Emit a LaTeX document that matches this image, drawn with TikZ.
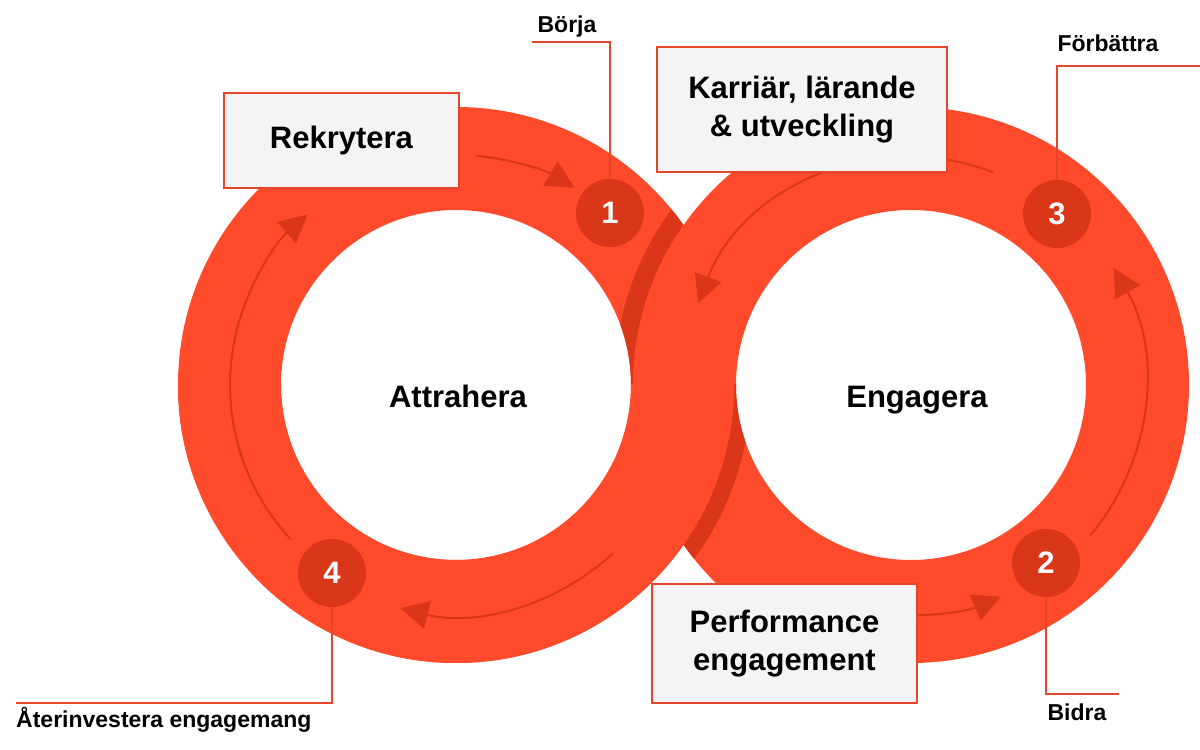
\documentclass[tikz,border=0pt]{standalone}
\usepackage{fontspec}
\setmainfont{Liberation Sans}
\usetikzlibrary{arrows.meta}
\definecolor{ringred}{HTML}{FF4A2B}
\definecolor{darkred}{HTML}{D9361A}
\definecolor{linered}{HTML}{E5462B}
\definecolor{boxgrey}{HTML}{F4F4F4}
\tikzset{
	ring/.style={fill=ringred, even odd rule},
	shadow/.style={fill=darkred, even odd rule},
	flow/.style={draw=darkred, line width=2pt, -{Triangle[length=28pt,width=28pt]}},
	stepnum/.style={circle, fill=darkred, minimum size=68pt, inner sep=0pt, text=white, font=\bfseries\fontsize{31}{31}\selectfont},
	phase/.style={draw=linered, line width=1.5pt, fill=boxgrey, inner sep=0pt, align=center, font=\bfseries\fontsize{31}{38}\selectfont},
	leader/.style={draw=linered, line width=1.5pt},
	tag/.style={inner sep=0pt, font=\bfseries\fontsize{23}{23}\selectfont},
	hub/.style={inner sep=0pt, anchor=base, font=\bfseries\fontsize{31}{31}\selectfont},
}

\begin{document}
\begin{tikzpicture}[x=1pt, y=1pt]
			%%%%% START %%%%%
			\fill[white] (0, 0) rectangle (1200, 750);
			\useasboundingbox (0, 0) rectangle (1200, 750);
			\coordinate (lc) at (456, 365);
			\coordinate (rc) at (911, 365);
			
			\fill[ring] (lc) circle[radius=278] (lc) circle[radius=175];
			\begin{scope}[even odd rule]
				\clip (0, 365) rectangle (1200, 750);
				\clip (lc) circle[radius=278] (lc) circle[radius=175];
				\fill[shadow] (rc) circle[radius=297] (rc) circle[radius=278];
			\end{scope}
			\fill[ring] (rc) circle[radius=278] (rc) circle[radius=175];
			\begin{scope}[even odd rule]
				\clip (0, 0) rectangle (1200, 365);
				\clip (rc) circle[radius=278] (rc) circle[radius=175];
				\fill[shadow] (lc) circle[radius=295] (lc) circle[radius=278];
			\end{scope}
			\begin{scope}
				\clip (0, 0) rectangle (1200, 365);
				\fill[ring] (lc) circle[radius=278] (lc) circle[radius=175];
			\end{scope}
			
			\draw[flow] ([shift={(85:230)}]lc) arc[start angle=85, end angle=59, radius=230];
			\draw[flow] ([shift={(223:226)}]lc) arc[start angle=223, end angle=131, radius=226];
			\draw[flow] ([shift={(313:230)}]lc) arc[start angle=313, end angle=256, radius=230];
			\draw[flow] ([shift={(69:228)}]rc) arc[start angle=69, end angle=159, radius=228];
			\draw[flow] ([shift={(265:230)}]rc) arc[start angle=265, end angle=293, radius=230];
			\draw[flow] ([shift={(320:234)}]rc) arc[start angle=320, end angle=390, radius=234];
			
			\node[hub] (attr) at (458, 342) {Attrahera};
			\node[hub] (enga) at (917, 342) {Engagera};
			
			\node[phase, minimum width=235pt, minimum height=95pt] (rekr) at (341.5, 609.5) {Rekrytera};
			\node[phase, minimum width=290pt, minimum height=125pt] (karr) at (802, 640.5) {Karriär, lärande\\\& utveckling};
			\node[phase, minimum width=265pt, minimum height=119pt] (perf) at (784.5, 106.5) {Performance\\engagement};
			
			\node[stepnum] (n1) at (610, 537) {1};
			\node[stepnum] (n2) at (1046, 187) {2};
			\node[stepnum] (n3) at (1057, 536) {3};
			\node[stepnum] (n4) at (332, 177) {4};
			
			\coordinate (b1) at (610, 708);
			\coordinate (e1) at (532, 708);
			\coordinate (b3) at (1057, 684);
			\coordinate (e3) at (1200, 684);
			\coordinate (b4) at (332, 47);
			\coordinate (e4) at (16, 47);
			\coordinate (b2) at (1046, 56);
			\coordinate (e2) at (1119, 56);
			\draw[leader] (n1.north) -- (b1) -- (e1);
			\draw[leader] (n3.north) -- (b3) -- (e3);
			\draw[leader] (n4.south) -- (b4) -- (e4);
			\draw[leader] (n2.south) -- (b2) -- (e2);
			
			\node[tag, anchor=base] (borja) at (567, 717) {Börja};
			\node[tag, anchor=base] (forb) at (1108, 698) {Förbättra};
			\node[tag, anchor=base west] (ater) at (16, 22) {Återinvestera engagemang};
			\node[tag, anchor=base] (bidra) at (1077, 30) {Bidra};
			%%%%% END %%%%%
\end{tikzpicture}
\end{document}
